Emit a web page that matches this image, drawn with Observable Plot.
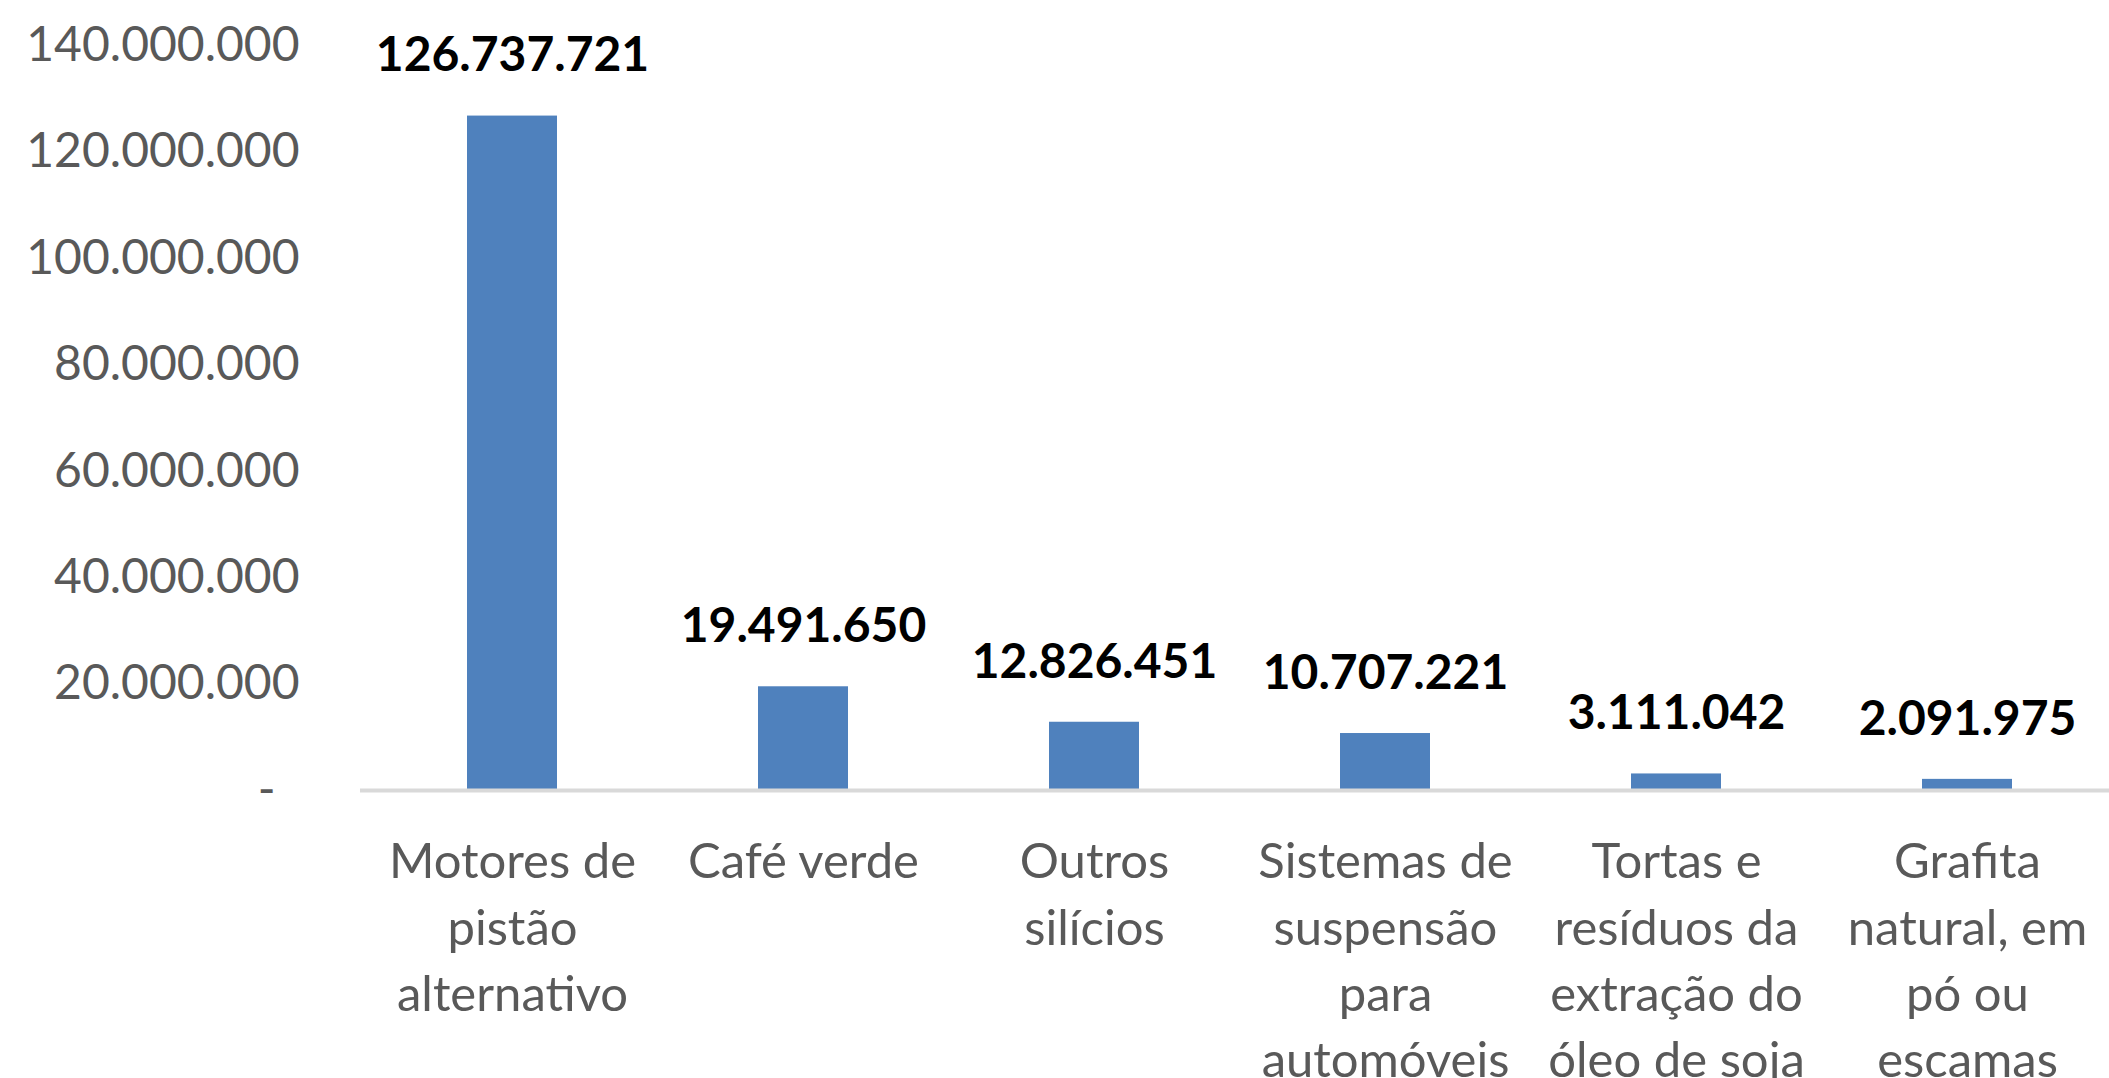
<!DOCTYPE html>
<html>
<head>
<meta charset="utf-8">
<script src="https://cdn.jsdelivr.net/npm/d3@7"></script>
<script src="https://cdn.jsdelivr.net/npm/@observablehq/plot@0.6"></script>
<style>
  html, body { margin: 0; padding: 0; background: #ffffff; }
  #chart { width: 2109px; height: 1078px; }
</style>
</head>
<body>
<div id="chart"></div>
<script>
const categories = [
  "Motores de\npistão\nalternativo",
  "Café verde",
  "Outros\nsilícios",
  "Sistemas de\nsuspensão\npara\nautomóveis",
  "Tortas e\nresíduos da\nextração do\nóleo de soja",
  "Grafita\nnatural, em\npó ou\nescamas"
];
const values = [126737721, 19491650, 12826451, 10707221, 3111042, 2091975];
const yTicks = [0, 20000000, 40000000, 60000000, 80000000, 100000000, 120000000, 140000000];

const data = categories.map((c, i) => ({cat: c, value: values[i]}));

const ptBR = d3.formatLocale({decimal: ",", thousands: ".", grouping: [3], currency: ["R$", ""]});
const fmt = ptBR.format(",d");
const tickFmt = d => d === 0 ? "-\u2002" : fmt(d);

const chart = Plot.plot({
  width: 2109,
  height: 1078,
  marginLeft: 360,
  marginRight: 0,
  marginTop: 45,
  marginBottom: 288,
  style: {fontFamily: "Lato, 'Open Sans', sans-serif", color: "#595959", background: "#ffffff", overflow: "visible"},
  x: {type: "band", domain: categories, range: [366, 2114], paddingInner: 0.69, paddingOuter: 0.345, label: null},
  y: {domain: [0, 140000000], label: null},
  marks: [
    Plot.barY(data, {x: "cat", y: "value", fill: "#4f81bd"}),
    Plot.ruleY([0], {stroke: "#d9d9d9", strokeWidth: 4}),
    Plot.axisY({ticks: yTicks, tickFormat: tickFmt, tickSize: 0, tickPadding: 61, fontSize: 48, label: null}),
    Plot.axisX({tickSize: 0, tickPadding: 41, fontSize: 49, lineHeight: 1.35, label: null}),
    Plot.text(data, {x: "cat", y: "value", text: d => fmt(d.value), dy: -60, fontSize: 48, fontWeight: "bold", fill: "#000000"})
  ]
});
document.getElementById("chart").appendChild(chart);
</script>
</body>
</html>
